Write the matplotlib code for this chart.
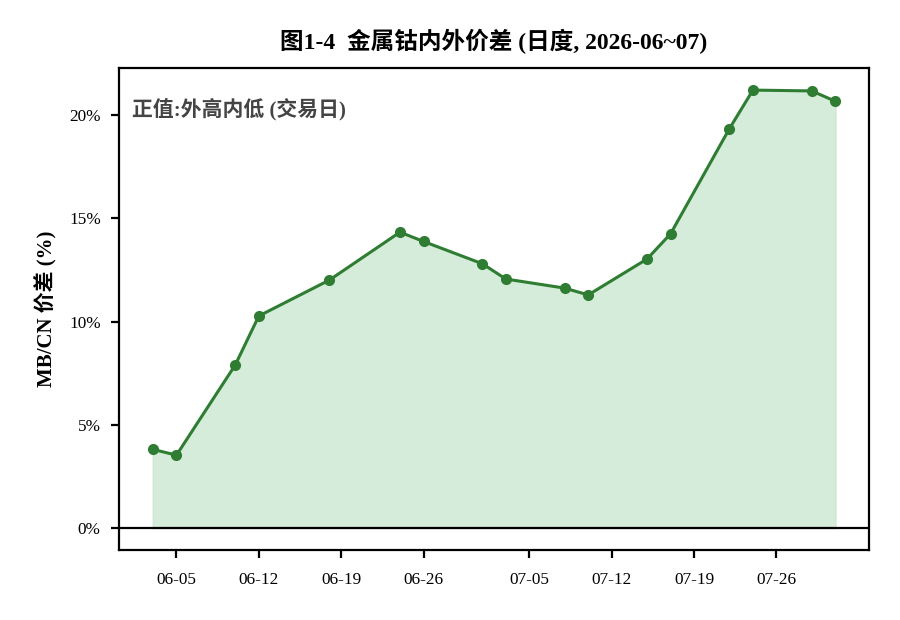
import numpy as np
import pandas as pd
import matplotlib
matplotlib.use("Agg")
import matplotlib.pyplot as plt
import matplotlib.dates as mdates
from matplotlib import ticker

plt.rcParams['font.family'] = ['Liberation Serif', 'Noto Sans CJK SC']
plt.rcParams['axes.unicode_minus'] = False

# data
dates = ["2026-06-03", "2026-06-05", "2026-06-10", "2026-06-12", "2026-06-18",
         "2026-06-24", "2026-06-26", "2026-07-01", "2026-07-03", "2026-07-08",
         "2026-07-10", "2026-07-15", "2026-07-17", "2026-07-22", "2026-07-24",
         "2026-07-29", "2026-07-31"]
spread = [3.81, 3.53, 7.90, 10.27, 12.01, 14.33, 13.88, 12.80, 12.06, 11.62,
          11.29, 13.03, 14.25, 19.34, 21.21, 21.17, 20.67]

title = "图1-4  金属钴内外价差 (日度, 2026-06~07)"
ylabel = "MB/CN 价差 (%)"
note = "正值:外高内低 (交易日)"

x = pd.to_datetime(dates)
y = np.array(spread)

fig, ax = plt.subplots(figsize=(4.5, 3.1), dpi=200)
fig.subplots_adjust(left=0.132, right=0.966, top=0.89, bottom=0.113)

green = "#2e7d32"
ax.fill_between(x, 0, y, color="#d6ecda", linewidth=0.6, edgecolor="#cfe8d3")
ax.plot(x, y, color=green, linewidth=1.1, marker="o", markersize=3.0, zorder=3)
ax.axhline(0, color="black", linewidth=0.8)

ax.xaxis.set_major_locator(mdates.DayLocator(bymonthday=[5, 12, 19, 26]))
ax.xaxis.set_major_formatter(mdates.DateFormatter("%m-%d"))
ax.yaxis.set_major_locator(ticker.MultipleLocator(5))
ax.yaxis.set_major_formatter(ticker.FuncFormatter(lambda v, p: f"{v:.0f}%"))
ax.tick_params(labelsize=6.2, width=0.8, length=3)
ax.tick_params(axis="x", pad=5)

for s in ax.spines.values():
    s.set_linewidth(0.8)

ax.set_title(title, fontsize=8.5, fontweight="bold", pad=7)
ax.set_ylabel(ylabel, fontsize=7.5, fontweight="bold")
ax.text(0.018, 0.915, note, transform=ax.transAxes, fontsize=7.5,
        fontweight="bold", color="#444444", va="center", ha="left")

fig.savefig("out.png", dpi=200)
